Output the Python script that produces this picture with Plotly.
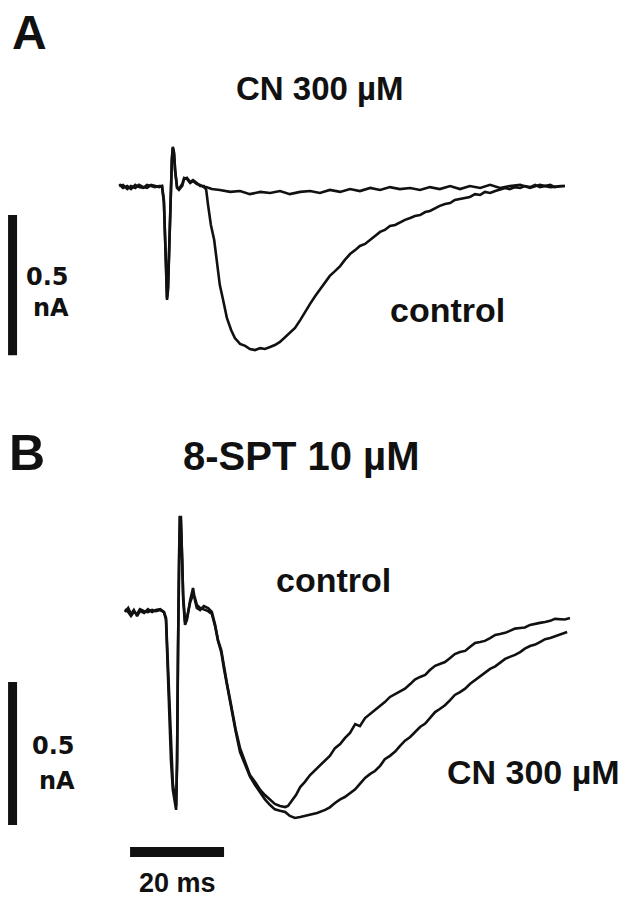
"""Courants synaptiques (EPSC) : effet de CN 300 µM, seul (A) et en présence de 8-SPT 10 µM (B)."""

import plotly.graph_objects as go

# la page ajoute une marge de 8 px autour de la figure
PAGE_W, PAGE_H = 626, 899
OFFSET = 8
W, H = PAGE_W - OFFSET, PAGE_H - OFFSET
INK = "#111111"
FONT = "Liberation Sans, Arial, sans-serif"
FONT_SCALE = "DejaVu Sans, sans-serif"

# ---- Panel A : temps (ms) / courant (nA) ----
T_A_CONTROL = [
    -9.1, -8.3, -7.4, -6.6, -5.7, -4.9, -4.0, -3.2, -2.3, -1.5,
    -0.6, 0.0, 0.4, 0.85, 1.06, 1.28, 1.7, 1.9, 2.1, 2.3,
    2.55, 2.8, 3.2, 3.6, 4.3, 4.7, 5.3, 6.0, 6.6, 7.4,
    8.1, 8.9, 9.4, 9.8, 10.4, 11.1, 11.7, 12.3, 13.0, 13.8,
    14.7, 15.5, 16.6, 17.7, 18.7, 19.8, 20.9, 21.9, 23.0, 24.0,
    25.1, 26.2, 27.2, 28.3, 29.4, 30.4, 31.5, 32.6, 33.6, 34.7,
    35.7, 36.8, 37.9, 38.9, 40.0, 41.1, 42.1, 43.2, 44.3, 45.3,
    46.4, 47.4, 48.5, 49.6, 50.6, 51.7, 52.8, 53.8, 54.9, 56.0,
    57.0, 58.1, 59.1, 60.2, 61.3, 62.3, 63.4, 64.5, 65.5, 66.6,
    67.7, 68.7, 69.8, 70.9, 71.9, 73.0, 74.0, 75.1, 76.2, 77.2,
    78.3, 79.4, 80.4, 81.5, 82.6, 83.6, 84.7, 85.7,
]
I_A_CONTROL = [
    0.007, -0.007, 0.0, -0.011, 0.004, -0.004, -0.007, 0.004, 0.0, -0.004,
    0.0, 0.0, -0.05, -0.264, -0.407, -0.371, -0.121, 0.0, 0.093, 0.136,
    0.121, 0.057, -0.007, -0.014, 0.0, 0.025, 0.029, 0.014, 0.021, 0.011,
    0.0, 0.0, -0.014, -0.068, -0.139, -0.193, -0.282, -0.354, -0.407, -0.471,
    -0.514, -0.543, -0.564, -0.571, -0.582, -0.586, -0.579, -0.582, -0.575, -0.568,
    -0.557, -0.539, -0.525, -0.507, -0.479, -0.45, -0.421, -0.393, -0.371, -0.346,
    -0.321, -0.304, -0.286, -0.264, -0.243, -0.229, -0.214, -0.207, -0.193, -0.179,
    -0.164, -0.157, -0.143, -0.139, -0.129, -0.121, -0.114, -0.107, -0.104, -0.093,
    -0.089, -0.079, -0.071, -0.064, -0.061, -0.05, -0.046, -0.043, -0.039, -0.029,
    -0.032, -0.021, -0.025, -0.018, -0.014, -0.007, -0.011, -0.004, -0.007, 0.0,
    -0.004, 0.004, -0.004, 0.0, 0.004, -0.004, 0.0, 0.0,
]

T_A_CN = [
    -9.1, -8.3, -7.4, -6.6, -5.7, -4.9, -4.0, -3.2, -2.3, -1.5,
    -0.6, 0.0, 0.4, 0.85, 1.06, 1.28, 1.7, 1.9, 2.1, 2.3,
    2.55, 2.8, 3.2, 3.6, 4.3, 4.7, 5.3, 6.0, 6.6, 7.4,
    8.1, 8.9, 9.4, 10.6, 12.3, 14.5, 16.6, 18.7, 20.9, 23.0,
    25.1, 27.2, 29.4, 31.5, 33.6, 35.7, 37.9, 40.0, 42.1, 44.3,
    46.4, 48.5, 50.6, 52.8, 54.9, 57.0, 59.1, 61.3, 63.4, 65.5,
    67.7, 69.8, 71.9, 74.0, 76.2, 78.3, 80.4, 82.6, 85.7,
]
I_A_CN = [
    0.0, 0.004, -0.011, 0.0, -0.007, 0.004, -0.004, -0.007, 0.004, 0.0,
    -0.004, 0.0, -0.06, -0.28, -0.4, -0.36, -0.11, 0.01, 0.1, 0.14,
    0.115, 0.05, -0.004, -0.011, 0.007, 0.029, 0.025, 0.011, 0.018, 0.007,
    0.004, -0.004, -0.004, -0.011, -0.014, -0.021, -0.018, -0.029, -0.021, -0.025,
    -0.018, -0.029, -0.021, -0.018, -0.025, -0.014, -0.021, -0.011, -0.018, -0.007,
    -0.014, -0.004, -0.011, -0.007, -0.014, -0.004, -0.011, 0.0, -0.011, 0.0,
    -0.007, 0.004, -0.007, 0.0, 0.004, -0.007, 0.004, -0.004, 0.0,
]

# ---- Panel B : temps (ms) / courant (nA) ----
T_B_CONTROL = [
    -7.9, -7.2, -6.6, -6.0, -5.3, -4.7, -3.8, -3.0, -2.1, -1.3,
    -0.4, 0.4, 0.85, 1.3, 1.9, 2.3, 3.0, 3.2, 3.4, 3.6,
    3.8, 4.0, 4.3, 4.5, 4.9, 5.3, 6.0, 6.6, 7.0, 7.4,
    8.1, 8.9, 9.8, 10.6, 11.3, 11.9, 12.6, 13.2, 13.8, 14.5,
    15.1, 15.7, 16.6, 17.7, 18.7, 19.8, 20.9, 21.9, 23.0, 24.0,
    25.1, 26.2, 26.8, 27.7, 28.5, 29.4, 30.4, 31.5, 32.6, 33.6,
    34.7, 35.7, 36.8, 37.9, 38.9, 40.0, 41.1, 42.1, 43.2, 44.3,
    45.3, 46.4, 47.4, 48.5, 49.6, 50.6, 51.7, 52.8, 53.8, 54.9,
    56.0, 57.0, 58.1, 59.1, 60.2, 61.3, 62.3, 63.4, 64.5, 65.5,
    66.6, 67.7, 68.7, 69.8, 70.9, 71.9, 73.0, 74.0, 75.1, 76.2,
    77.2, 78.3, 79.4, 80.4, 81.5, 82.6, 83.6, 84.7, 85.7, 86.8,
]
I_B_CONTROL = [
    0.0, 0.014, -0.007, 0.007, -0.014, 0.003, -0.003, 0.01, 0.0, 0.007,
    0.01, 0.0, -0.028, -0.238, -0.517, -0.622, -0.692, -0.517, -0.098, 0.182,
    0.332, 0.332, 0.182, 0.042, -0.045, -0.028, 0.042, 0.084, 0.042, 0.014,
    0.007, 0.021, 0.014, 0.0, -0.045, -0.098, -0.133, -0.196, -0.248, -0.308,
    -0.367, -0.413, -0.476, -0.528, -0.57, -0.594, -0.622, -0.64, -0.657, -0.671,
    -0.678, -0.682, -0.678, -0.657, -0.64, -0.612, -0.594, -0.57, -0.552, -0.538,
    -0.517, -0.503, -0.476, -0.462, -0.441, -0.423, -0.392, -0.399, -0.371, -0.357,
    -0.343, -0.329, -0.315, -0.297, -0.287, -0.276, -0.268, -0.252, -0.236, -0.227,
    -0.22, -0.203, -0.188, -0.182, -0.175, -0.161, -0.147, -0.14, -0.136, -0.122,
    -0.108, -0.105, -0.101, -0.091, -0.08, -0.077, -0.073, -0.066, -0.058, -0.056,
    -0.054, -0.045, -0.04, -0.038, -0.035, -0.031, -0.024, -0.024, -0.026, -0.021,
]

T_B_CN = [
    -7.9, -7.2, -6.6, -6.0, -5.3, -4.7, -3.8, -3.0, -2.1, -1.3,
    -0.4, 0.4, 0.85, 1.3, 1.9, 2.3, 3.0, 3.2, 3.4, 3.6,
    3.8, 4.0, 4.3, 4.5, 4.9, 5.3, 6.0, 6.6, 7.0, 7.4,
    8.1, 8.9, 9.8, 10.6, 11.3, 11.9, 12.6, 13.2, 13.8, 14.5,
    15.1, 15.7, 16.6, 17.7, 18.7, 19.8, 20.9, 21.9, 23.0, 24.0,
    25.1, 26.2, 27.2, 28.3, 29.4, 30.4, 31.5, 33.0, 34.7, 35.7,
    36.8, 37.9, 38.9, 40.0, 41.1, 42.1, 43.2, 44.3, 45.3, 46.4,
    47.4, 48.5, 49.6, 50.6, 51.7, 52.8, 53.8, 54.9, 56.0, 57.0,
    58.1, 59.1, 60.2, 61.3, 62.3, 63.4, 64.5, 65.5, 66.6, 67.7,
    68.7, 69.8, 70.9, 71.9, 73.0, 74.0, 75.1, 76.2, 77.2, 78.3,
    79.4, 80.4, 81.5, 82.6, 83.6, 84.7, 86.2,
]
I_B_CN = [
    0.01, 0.0, -0.014, 0.0, -0.007, 0.01, 0.003, 0.0, 0.007, 0.003,
    0.007, 0.0, -0.02, -0.2, -0.48, -0.6, -0.68, -0.53, -0.12, 0.16,
    0.33, 0.33, 0.2, 0.06, -0.035, -0.02, 0.035, 0.06, 0.05, 0.025,
    0.014, 0.01, 0.003, -0.007, -0.05, -0.1, -0.14, -0.2, -0.255, -0.31,
    -0.37, -0.42, -0.49, -0.535, -0.575, -0.605, -0.632, -0.655, -0.675, -0.69,
    -0.695, -0.699, -0.713, -0.72, -0.717, -0.713, -0.71, -0.703, -0.692, -0.683,
    -0.668, -0.655, -0.647, -0.633, -0.62, -0.601, -0.58, -0.566, -0.556, -0.538,
    -0.515, -0.503, -0.488, -0.469, -0.45, -0.437, -0.42, -0.402, -0.39, -0.371,
    -0.35, -0.339, -0.326, -0.308, -0.29, -0.28, -0.268, -0.252, -0.238, -0.224,
    -0.213, -0.199, -0.19, -0.178, -0.164, -0.157, -0.15, -0.14, -0.128, -0.119,
    -0.114, -0.105, -0.095, -0.091, -0.085, -0.077, -0.07,
]

# barres d'échelle
SCALE_NA = 0.5
SCALE_MS = 20
BAR_T = -31.8            # position en x des barres verticales (ms)
BAR_A_TOP = -0.104       # haut de la barre A (nA)
BAR_B_TOP = -0.245       # haut de la barre B (nA)
BAR_B_H_LEVEL = -0.839   # niveau de la barre horizontale (nA)
BAR_B_H_START = -6.8     # début de la barre horizontale (ms)

X_RANGE = [-32.77, 98.72]
SPLIT = (430 - OFFSET) / H
Y_A_RANGE = [-0.8714, 0.6357]
Y_B_RANGE = [-1.0035, 0.6364]


def px(x, y):
    """Position en pixels de la page -> coordonnées papier."""
    return (x - OFFSET) / W, 1 - (y - OFFSET) / H


fig = go.Figure()

line = dict(color=INK, width=2.6)
fig.add_trace(go.Scatter(x=T_A_CN, y=I_A_CN, mode="lines", line=line, xaxis="x", yaxis="y"))
fig.add_trace(go.Scatter(x=T_A_CONTROL, y=I_A_CONTROL, mode="lines", line=line, xaxis="x", yaxis="y"))
fig.add_trace(go.Scatter(x=T_B_CN, y=I_B_CN, mode="lines", line=line, xaxis="x2", yaxis="y2"))
fig.add_trace(go.Scatter(x=T_B_CONTROL, y=I_B_CONTROL, mode="lines", line=line, xaxis="x2", yaxis="y2"))

# barres d'échelle
bar_v = dict(color=INK, width=9)
fig.add_trace(go.Scatter(x=[BAR_T, BAR_T], y=[BAR_A_TOP, BAR_A_TOP - SCALE_NA],
                         mode="lines", line=bar_v, xaxis="x", yaxis="y"))
fig.add_trace(go.Scatter(x=[BAR_T, BAR_T], y=[BAR_B_TOP, BAR_B_TOP - SCALE_NA],
                         mode="lines", line=bar_v, xaxis="x2", yaxis="y2"))
fig.add_trace(go.Scatter(x=[BAR_B_H_START, BAR_B_H_START + SCALE_MS], y=[BAR_B_H_LEVEL, BAR_B_H_LEVEL],
                         mode="lines", line=dict(color=INK, width=10), xaxis="x2", yaxis="y2"))

labels = [
    ("<b>A</b>", 29, 33, 48, FONT),
    ("<b>CN 300 µM</b>", 320, 88, 33, FONT),
    ("<b>control</b>", 447, 310, 34, FONT),
    ("<b>0.5</b>", 47, 277, 24, FONT_SCALE),
    ("<b>nA</b>", 51, 308, 24, FONT_SCALE),
    ("<b>B</b>", 27, 453, 50, FONT),
    ("<b>8-SPT 10 µM</b>", 301, 456, 40, FONT),
    ("<b>control</b>", 334, 580, 34, FONT),
    ("<b>CN 300 µM</b>", 533, 772, 34, FONT),
    ("<b>0.5</b>", 53, 746, 24, FONT_SCALE),
    ("<b>nA</b>", 57, 781, 24, FONT_SCALE),
    ("<b>20 ms</b>", 177, 883, 27, FONT),
]
for text, x, y, size, family in labels:
    ax, ay = px(x, y)
    fig.add_annotation(x=ax, y=ay, xref="paper", yref="paper", text=text, showarrow=False,
                       xanchor="center", yanchor="middle",
                       font=dict(family=family, size=size, color=INK))

hidden = dict(visible=False, showgrid=False, zeroline=False, fixedrange=True)
fig.update_layout(
    width=W,
    height=H,
    margin=dict(l=0, r=0, t=0, b=0),
    paper_bgcolor="white",
    plot_bgcolor="white",
    showlegend=False,
    xaxis=dict(hidden, range=X_RANGE, domain=[0, 1], anchor="y"),
    yaxis=dict(hidden, range=Y_A_RANGE, domain=[1 - SPLIT, 1], anchor="x"),
    xaxis2=dict(hidden, range=X_RANGE, domain=[0, 1], anchor="y2"),
    yaxis2=dict(hidden, range=Y_B_RANGE, domain=[0, 1 - SPLIT], anchor="x2"),
)

fig.write_html("out.html")
